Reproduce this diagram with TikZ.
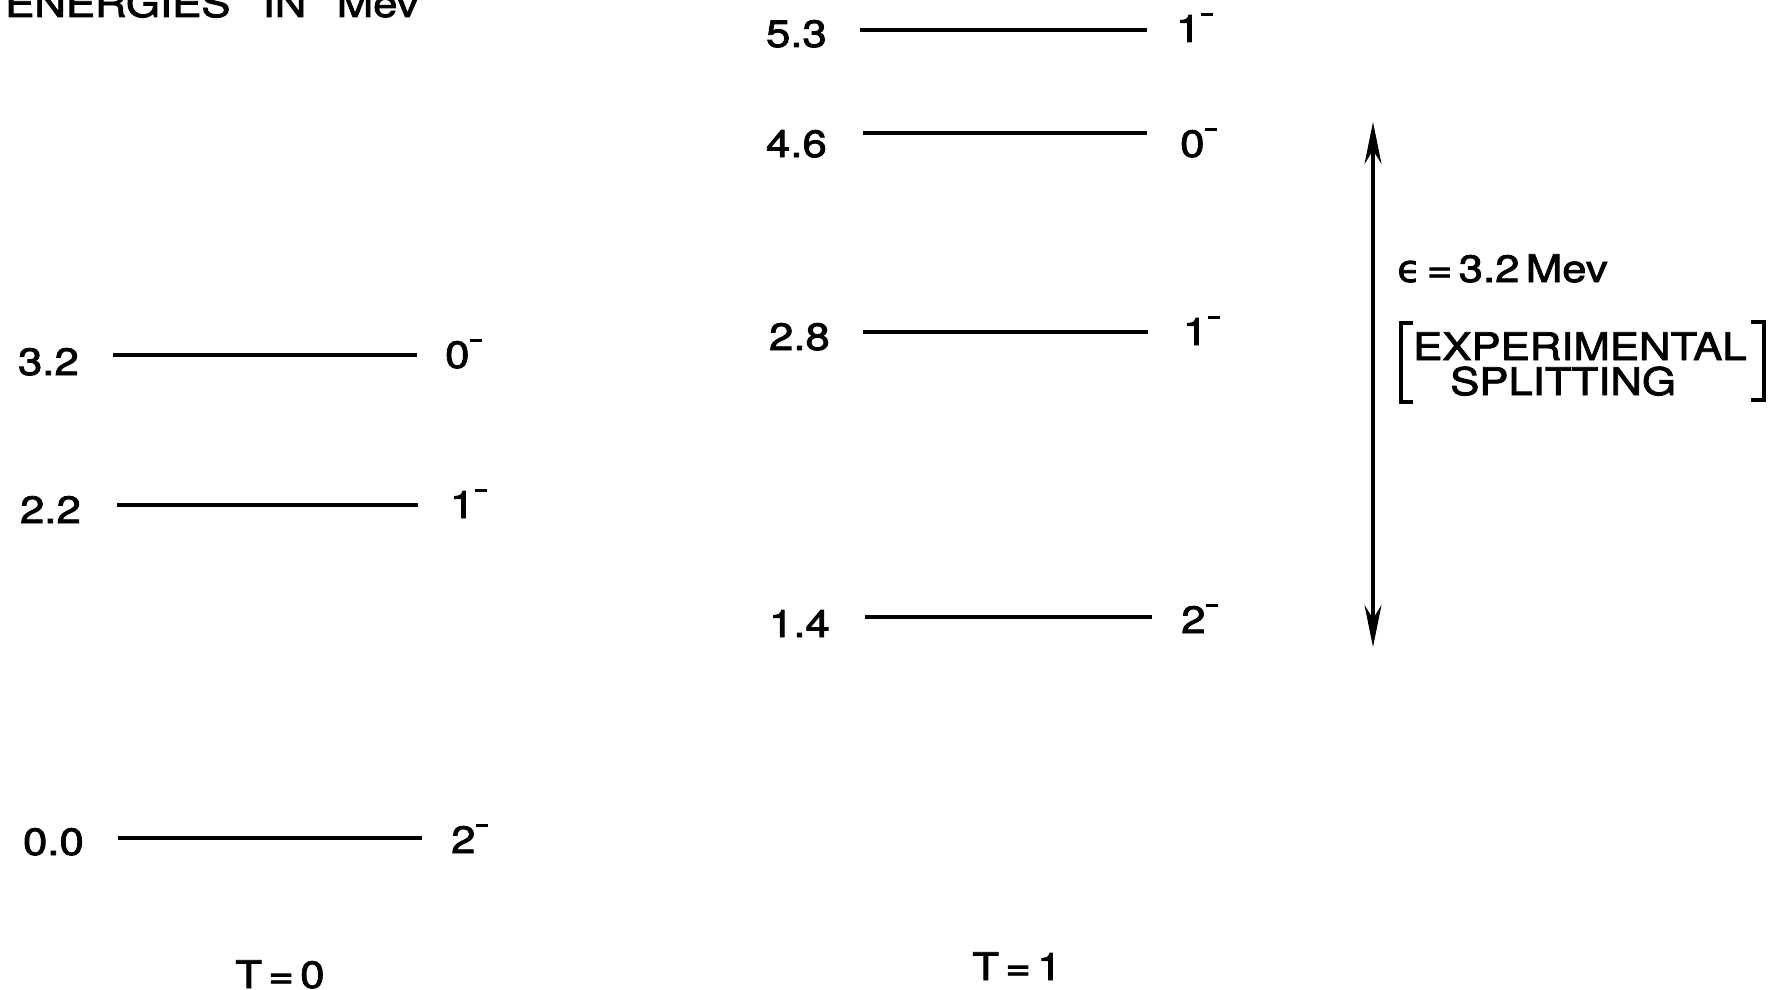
\documentclass[tikz,border=0pt]{standalone}
\usepackage{fontspec}
\setmainfont{TeX Gyre Heros}[FakeStretch=1.15,FakeBold=2.2]
\newfontfamily\epsfont{DejaVu Sans}[FakeBold=2]
\usetikzlibrary{arrows.meta}
\newcommand{\smn}{\raisebox{0.68em}{\rule{0.32em}{0.09em}}}
\begin{document}
\begin{tikzpicture}[x=1pt,y=-1pt,
  lvl/.style={line width=4pt},
  lab/.style={inner sep=0pt, font=\fontsize{38}{42}\selectfont},
  splitarrow/.style={line width=3.2pt, {Stealth[length=42pt,width=17pt]}-{Stealth[length=42pt,width=17pt]}}]
\useasboundingbox (0,0) rectangle (1789,990);

\node[lab, anchor=base west] (title) at (5,17) {ENERGIES\hspace{0.85em}IN\hspace{0.8em}Mev};

% T = 0 column
\node[lab, anchor=base east] (n32) at (79,375) {3.2};
\node[lab, anchor=base east] (n22) at (81,523) {2.2};
\node[lab, anchor=base east] (n00) at (84,855) {0.0};
\coordinate (a1) at (113,355); \coordinate (b1) at (417,355);
\coordinate (a2) at (117,505); \coordinate (b2) at (418,505);
\coordinate (a3) at (118,838); \coordinate (b3) at (422,838);
\draw[lvl] (a1) -- (b1);
\draw[lvl] (a2) -- (b2);
\draw[lvl] (a3) -- (b3);
\node[lab, anchor=base west] (s32) at (445,368) {0\smn};
\node[lab, anchor=base west] (s22) at (450,518) {1\smn};
\node[lab, anchor=base west] (s00) at (451,853) {2\smn};
\node[lab, anchor=base] (t0) at (280,988) {T\,=\,0};

% T = 1 column
\node[lab, anchor=base east] (n53) at (827,47) {5.3};
\node[lab, anchor=base east] (n46) at (827,157) {4.6};
\node[lab, anchor=base east] (n28) at (830,350) {2.8};
\node[lab, anchor=base east] (n14) at (830,637) {1.4};
\coordinate (c1) at (860,30);  \coordinate (d1) at (1147,30);
\coordinate (c2) at (863,133); \coordinate (d2) at (1147,133);
\coordinate (c3) at (863,332); \coordinate (d3) at (1148,332);
\coordinate (c4) at (865,617); \coordinate (d4) at (1152,617);
\draw[lvl] (c1) -- (d1);
\draw[lvl] (c2) -- (d2);
\draw[lvl] (c3) -- (d3);
\draw[lvl] (c4) -- (d4);
\node[lab, anchor=base west] (s53) at (1176,42) {1\smn};
\node[lab, anchor=base west] (s46) at (1180,157) {0\smn};
\node[lab, anchor=base west] (s28) at (1183,345) {1\smn};
\node[lab, anchor=base west] (s14) at (1181,633) {2\smn};
\node[lab, anchor=base] (t1) at (1017,980) {T\,=\,1};

% splitting arrow
\coordinate (atop) at (1373,122);
\coordinate (abot) at (1373,647);
\draw[splitarrow] (atop) -- (abot);
\node[lab, anchor=base west] (eps) at (1397,282) {{\epsfont ϵ}\,=\,3.2\,Mev};
\node[lab, anchor=base west] (exp) at (1413,360) {EXPERIMENTAL};
\node[lab, anchor=base west] (spl) at (1450,395) {SPLITTING};
\draw[line width=3.2pt] (1413,323) -- (1401,323) -- (1401,402) -- (1413,402);
\draw[line width=3.2pt] (1751,322) -- (1764,322) -- (1764,400) -- (1751,400);
\end{tikzpicture}
\end{document}
